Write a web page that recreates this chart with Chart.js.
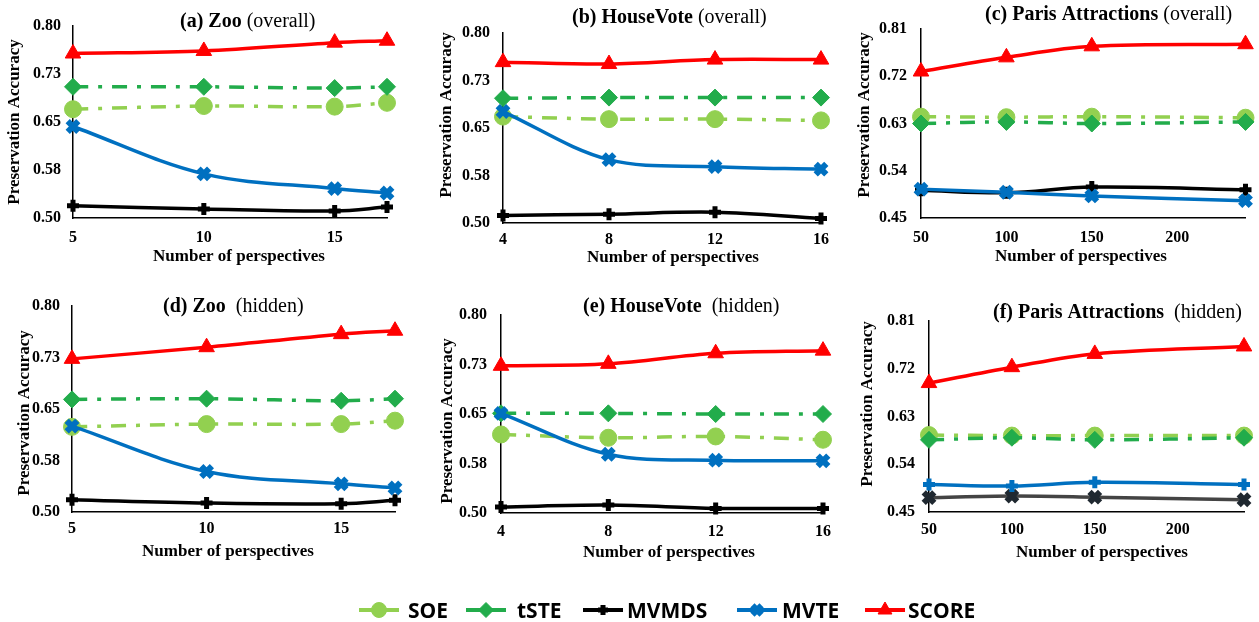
<!DOCTYPE html>
<html lang="en">
<head>
  <meta charset="UTF-8" />
  <title>Preservation Accuracy vs Number of Perspectives</title>
  <script src="https://cdn.jsdelivr.net/npm/chart.js"></script>
  <style>
    body { margin: 0; background: #fff; }
    #wrap { position: relative; width: 1259px; height: 622px; overflow: hidden; }
    #wrap canvas.panel { position: absolute; left: 0; top: 0; }
    .key { position: absolute; top: 599px; height: 22px; }
    .key span { font: bold 21px "Open Sans", sans-serif; line-height: 22px; color: #000; white-space: nowrap; }
  </style>
</head>
<body>
<div id="wrap">
  <canvas class="panel" id="zooOverall" width="1259" height="622"></canvas>
  <canvas class="panel" id="voteOverall" width="1259" height="622"></canvas>
  <canvas class="panel" id="parisOverall" width="1259" height="622"></canvas>
  <canvas class="panel" id="zooHidden" width="1259" height="622"></canvas>
  <canvas class="panel" id="voteHidden" width="1259" height="622"></canvas>
  <canvas class="panel" id="parisHidden" width="1259" height="622"></canvas>
</div>

<script>
  // number of perspectives per dataset
  const zooPerspectives = [5, 10, 15, 17];
  const votePerspectives = [4, 8, 12, 16];
  const parisPerspectives = [50, 100, 150, 240];

  const zooTicks = [5, 10, 15];
  const voteTicks = [4, 8, 12, 16];
  const parisTicks = [50, 100, 150, 200];

  const accTicks = ['0.50', '0.58', '0.65', '0.73', '0.80'];
  const parisAccTicks = ['0.45', '0.54', '0.63', '0.72', '0.81'];

  // (a) Zoo, overall
  const zooOverallSOE   = [0.670, 0.675, 0.674, 0.680];
  const zooOverallTSTE  = [0.705, 0.705, 0.703, 0.705];
  const zooOverallMVMDS = [0.519, 0.514, 0.511, 0.517];
  const zooOverallMVTE  = [0.643, 0.569, 0.546, 0.539];
  const zooOverallSCORE = [0.757, 0.761, 0.774, 0.777];

  // (b) HouseVote, overall
  const voteOverallSOE   = [0.668, 0.664, 0.664, 0.662];
  const voteOverallTSTE  = [0.697, 0.698, 0.698, 0.698];
  const voteOverallMVMDS = [0.512, 0.514, 0.517, 0.507];
  const voteOverallMVTE  = [0.676, 0.600, 0.589, 0.585];
  const voteOverallSCORE = [0.754, 0.751, 0.758, 0.758];

  // (c) Paris Attractions, overall
  const parisOverallSOE   = [0.643, 0.642, 0.643, 0.641];
  const parisOverallTSTE  = [0.630, 0.633, 0.630, 0.633];
  const parisOverallMVMDS = [0.503, 0.498, 0.509, 0.504];
  const parisOverallMVTE  = [0.505, 0.499, 0.492, 0.483];
  const parisOverallSCORE = [0.729, 0.756, 0.777, 0.781];

  // (d) Zoo, hidden
  const zooHiddenSOE   = [0.624, 0.628, 0.628, 0.633];
  const zooHiddenTSTE  = [0.664, 0.665, 0.662, 0.665];
  const zooHiddenMVMDS = [0.518, 0.513, 0.512, 0.517];
  const zooHiddenMVTE  = [0.625, 0.559, 0.541, 0.535];
  const zooHiddenSCORE = [0.723, 0.740, 0.759, 0.764];

  // (e) HouseVote, hidden
  const voteHiddenSOE   = [0.619, 0.614, 0.616, 0.611];
  const voteHiddenTSTE  = [0.651, 0.651, 0.650, 0.650];
  const voteHiddenMVMDS = [0.509, 0.512, 0.507, 0.507];
  const voteHiddenMVTE  = [0.651, 0.589, 0.580, 0.579];
  const voteHiddenSCORE = [0.723, 0.726, 0.742, 0.746];

  // (f) Paris Attractions, hidden
  const parisHiddenSOE   = [0.595, 0.594, 0.594, 0.594];
  const parisHiddenTSTE  = [0.586, 0.590, 0.586, 0.590];
  const parisHiddenMVMDS = [0.477, 0.480, 0.478, 0.473];
  const parisHiddenMVTE  = [0.502, 0.499, 0.506, 0.502];
  const parisHiddenSCORE = [0.693, 0.723, 0.748, 0.762];

  const W = 1259, H = 622;
  const SERIF = '"Liberation Serif", "Times New Roman", serif';
  const DASHDOT = [15, 10, 4, 10];

  const STYLE = {
    SOE:   { color: '#92D050', dash: DASHDOT, point: 'circle',   radius: 8.5, pw: 1 },
    tSTE:  { color: '#22AC4B', dash: DASHDOT, point: 'rectRot',  radius: 8.5, pw: 1 },
    MVMDS: { color: '#000000', dash: [],      point: 'cross',    radius: 6,   pw: 5 },
    MVTE:  { color: '#0070C0', dash: [],      point: 'crossRot', radius: 7.5, pw: 6 },
    SCORE: { color: '#FF0000', dash: [],      point: 'triangle', radius: 9,   pw: 1 }
  };

  function series(name, xs, ys, over) {
    const s = Object.assign({}, STYLE[name], over || {});
    return {
      label: name,
      data: xs.map((x, i) => ({ x: x, y: ys[i] })),
      borderColor: s.line || s.color,
      backgroundColor: s.color,
      borderWidth: 3.5,
      borderDash: s.dash,
      pointStyle: s.point,
      pointRadius: s.radius,
      pointBorderWidth: s.pw,
      pointBorderColor: s.color,
      pointBackgroundColor: s.color,
      tension: 0.35,
      clip: false
    };
  }

  // draws the panel caption and both axis titles
  const panelText = {
    id: 'panelText',
    afterDraw(chart, args, o) {
      const ctx = chart.ctx;
      ctx.save();
      ctx.fillStyle = '#000';
      ctx.textBaseline = 'middle';
      ctx.textAlign = 'left';
      let x = o.title.x;
      o.title.parts.forEach(p => {
        ctx.font = (p[1] ? 'bold ' : '') + '20px ' + SERIF;
        ctx.fillText(p[0], x, o.title.y);
        x += ctx.measureText(p[0]).width;
      });
      ctx.font = 'bold 17px ' + SERIF;
      ctx.textAlign = 'center';
      ctx.fillText('Number of perspectives', o.xTitle[0], o.xTitle[1]);
      ctx.translate(o.yTitle[0], o.yTitle[1]);
      ctx.rotate(-Math.PI / 2);
      ctx.fillText('Preservation Accuracy', 0, 0);
      ctx.restore();
    }
  };

  function makePanel(id, cfg) {
    const a = cfg.area;
    new Chart(document.getElementById(id), {
      type: 'line',
      data: { datasets: cfg.datasets },
      plugins: [panelText],
      options: {
        responsive: false,
        animation: false,
        layout: { padding: { left: a.left - 60, top: a.top, right: W - a.right, bottom: H - a.bottom - 40 } },
        plugins: {
          legend: { display: false },
          tooltip: { enabled: false },
          panelText: cfg.text
        },
        scales: {
          x: {
            type: 'linear',
            min: cfg.xMin,
            max: cfg.xMax,
            afterBuildTicks: s => { s.ticks = cfg.xTicks.map(v => ({ value: v })); },
            afterFit: s => { s.height = 40; },
            grid: { display: false, drawTicks: false },
            border: { display: true, color: '#000', width: 1.5 },
            ticks: { color: '#000', padding: cfg.xPad, font: { family: SERIF, size: 16, weight: 'bold' } }
          },
          y: {
            type: 'linear',
            min: cfg.yMin,
            max: cfg.yMax,
            afterBuildTicks: s => { s.ticks = cfg.yTicks.map((_, i) => ({ value: cfg.yMin + i * cfg.yStep })); },
            afterFit: s => { s.width = 60; },
            grid: { display: false, drawTicks: false },
            border: { display: true, color: '#000', width: 1.5 },
            ticks: {
              color: '#000',
              padding: cfg.yPad,
              font: { family: SERIF, size: 16, weight: 'bold' },
              callback: (v, i) => cfg.yTicks[i]
            }
          }
        }
      }
    });
  }

  // SCORE first so it sits on top of the others
  function group(xs, soe, tste, mvmds, mvte, score, over) {
    over = over || {};
    return [
      series('SCORE', xs, score),
      series('MVTE', xs, mvte, over.MVTE),
      series('MVMDS', xs, mvmds, over.MVMDS),
      series('tSTE', xs, tste),
      series('SOE', xs, soe)
    ];
  }

  makePanel('zooOverall', {
    area: { left: 73, top: 26, right: 387, bottom: 218 },
    xMin: 5, xMax: 17, xTicks: zooTicks, xPad: 10,
    yMin: 0.5, yMax: 0.8, yStep: 0.075, yTicks: accTicks, yPad: 12,
    datasets: group(zooPerspectives, zooOverallSOE, zooOverallTSTE, zooOverallMVMDS, zooOverallMVTE, zooOverallSCORE),
    text: { title: { x: 180, y: 22, parts: [['(a) Zoo', true], [' (overall)', false]] }, xTitle: [239, 257], yTitle: [15, 122] }
  });

  makePanel('voteOverall', {
    area: { left: 503, top: 33, right: 821, bottom: 223 },
    xMin: 4, xMax: 16, xTicks: voteTicks, xPad: 7,
    yMin: 0.5, yMax: 0.8, yStep: 0.075, yTicks: accTicks, yPad: 13,
    datasets: group(votePerspectives, voteOverallSOE, voteOverallTSTE, voteOverallMVMDS, voteOverallMVTE, voteOverallSCORE),
    text: { title: { x: 572, y: 18, parts: [['(b) HouseVote', true], [' (overall)', false]] }, xTitle: [673, 258], yTitle: [447, 115] }
  });

  makePanel('parisOverall', {
    area: { left: 921, top: 29, right: 1251, bottom: 218 },
    xMin: 50, xMax: 240, xTicks: parisTicks, xPad: 10,
    yMin: 0.45, yMax: 0.81, yStep: 0.09, yTicks: parisAccTicks, yPad: 14,
    datasets: group(parisPerspectives, parisOverallSOE, parisOverallTSTE, parisOverallMVMDS, parisOverallMVTE, parisOverallSCORE),
    text: { title: { x: 985, y: 15, parts: [['(c) Paris Attractions', true], [' (overall)', false]] }, xTitle: [1081, 257], yTitle: [865, 115] }
  });

  makePanel('zooHidden', {
    area: { left: 72, top: 306, right: 395, bottom: 512 },
    xMin: 5, xMax: 17, xTicks: zooTicks, xPad: 7,
    yMin: 0.5, yMax: 0.8, yStep: 0.075, yTicks: accTicks, yPad: 12,
    datasets: group(zooPerspectives, zooHiddenSOE, zooHiddenTSTE, zooHiddenMVMDS, zooHiddenMVTE, zooHiddenSCORE),
    text: { title: { x: 163, y: 307, parts: [['(d) Zoo', true], ['  (hidden)', false]] }, xTitle: [228, 552], yTitle: [25, 413] }
  });

  makePanel('voteHidden', {
    area: { left: 501, top: 315, right: 823, bottom: 513 },
    xMin: 4, xMax: 16, xTicks: voteTicks, xPad: 9,
    yMin: 0.5, yMax: 0.8, yStep: 0.075, yTicks: accTicks, yPad: 14,
    datasets: group(votePerspectives, voteHiddenSOE, voteHiddenTSTE, voteHiddenMVMDS, voteHiddenMVTE, voteHiddenSCORE),
    text: { title: { x: 583, y: 307, parts: [['(e) HouseVote', true], ['  (hidden)', false]] }, xTitle: [669, 553], yTitle: [448, 421] }
  });

  // in this panel the blue line carries plus markers and the dark line carries crosses
  makePanel('parisHidden', {
    area: { left: 929, top: 321, right: 1244, bottom: 512 },
    xMin: 50, xMax: 240, xTicks: parisTicks, xPad: 8,
    yMin: 0.45, yMax: 0.81, yStep: 0.09, yTicks: parisAccTicks, yPad: 14,
    datasets: group(parisPerspectives, parisHiddenSOE, parisHiddenTSTE, parisHiddenMVMDS, parisHiddenMVTE, parisHiddenSCORE, {
      MVTE: { point: 'cross', radius: 6, pw: 5 },
      MVMDS: { color: '#1F2830', line: '#444444', point: 'crossRot', radius: 7.5, pw: 6 }
    }),
    text: { title: { x: 993, y: 313, parts: [['(f) Paris Attractions', true], ['  (hidden)', false]] }, xTitle: [1102, 553], yTitle: [868, 404] }
  });

  // legend row under the panels
  const legendKeys = [
    { name: 'SOE',   cx: 379, tx: 408 },
    { name: 'tSTE',  cx: 486, tx: 517 },
    { name: 'MVMDS', cx: 603, tx: 627 },
    { name: 'MVTE',  cx: 757, tx: 782 },
    { name: 'SCORE', cx: 885, tx: 908 }
  ];

  const wrap = document.getElementById('wrap');
  legendKeys.forEach(k => {
    const s = STYLE[k.name];
    const c = document.createElement('canvas');
    c.width = 46; c.height = 22;
    c.className = 'key';
    c.style.left = (k.cx - 23) + 'px';
    wrap.appendChild(c);
    const ctx = c.getContext('2d');
    ctx.strokeStyle = s.color;
    ctx.fillStyle = s.color;
    ctx.lineWidth = 4;
    ctx.beginPath(); ctx.moveTo(3, 11); ctx.lineTo(43, 11); ctx.stroke();
    ctx.lineWidth = s.pw;
    Chart.helpers.drawPoint(ctx, { pointStyle: s.point, radius: s.radius - 1, rotation: 0, borderWidth: s.pw }, 23, 11);

    const t = document.createElement('div');
    t.className = 'key';
    t.style.left = k.tx + 'px';
    t.innerHTML = '<span>' + k.name + '</span>';
    wrap.appendChild(t);
  });
</script>
</body>
</html>
